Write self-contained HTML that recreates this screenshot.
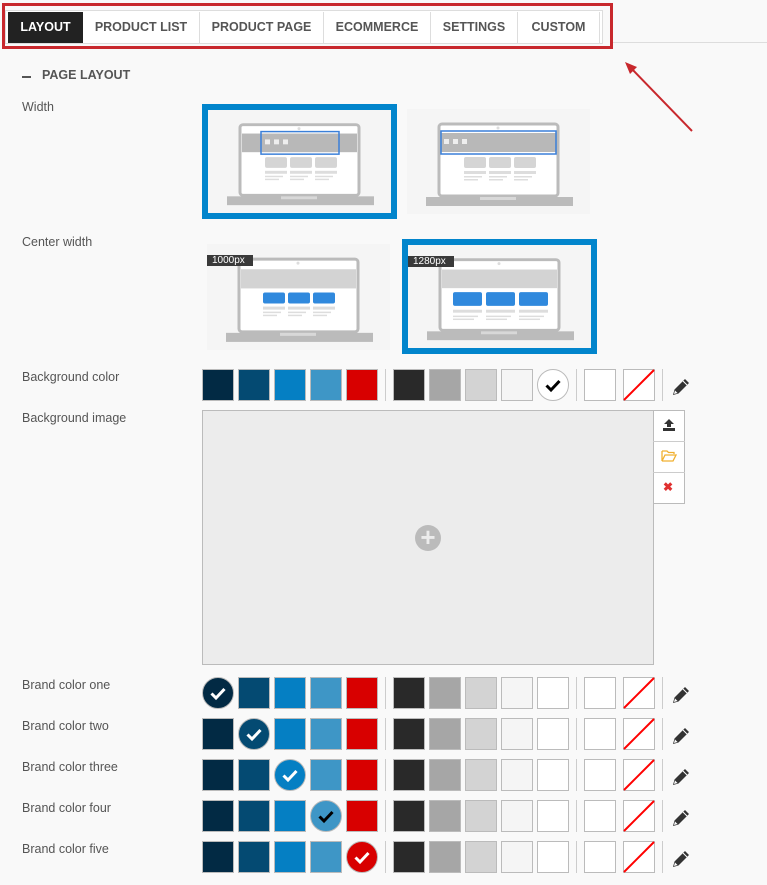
<!DOCTYPE html>
<html><head><meta charset="utf-8"><style>
*{box-sizing:border-box;margin:0;padding:0}
body{width:767px;height:885px;background:#f9f9f9;font-family:"Liberation Sans",sans-serif;position:relative;overflow:hidden;color:#444}
.a{position:absolute}
.tab{position:absolute;top:12px;height:31px;line-height:31px;text-align:center;font-weight:bold;font-size:12.5px;color:#555;border-right:1px solid #ddd;background:#fff}
.lbl{position:absolute;left:22px;font-size:12.5px;color:#555}
.sw{position:absolute;width:32px;height:32px;border:1px solid #bbb}
.sep{position:absolute;width:1px;height:32px;background:#ccc}
.circ{position:absolute;width:32px;height:32px;border-radius:50%}
</style></head><body>
<div class="a" style="left:612px;top:42px;width:155px;height:1px;background:#ddd"></div>
<div class="a" style="left:5px;top:10px;width:598px;height:34px;background:#fff;border:1px solid #ddd"></div>
<div class="tab" style="left:8px;width:75px;background:#222;color:#fff;border:none">LAYOUT</div>
<div class="tab" style="left:83px;width:117px">PRODUCT LIST</div>
<div class="tab" style="left:200px;width:124px">PRODUCT PAGE</div>
<div class="tab" style="left:324px;width:107px">ECOMMERCE</div>
<div class="tab" style="left:431px;width:87px">SETTINGS</div>
<div class="tab" style="left:518px;width:82px">CUSTOM</div>
<div class="a" style="left:2px;top:3px;width:611px;height:46px;border:3px solid #c8282d"></div>
<svg class="a" style="left:620px;top:58px" width="80" height="80"><line x1="72" y1="73" x2="10" y2="9" stroke="#c8282d" stroke-width="2"/><polygon points="5,4 17,9 10,16" fill="#c8282d"/></svg>

<div class="a" style="left:22px;top:76px;width:9px;height:2px;background:#555"></div>
<div class="a" style="left:42px;top:68px;font-size:12.5px;font-weight:bold;color:#555">PAGE LAYOUT</div>
<div class="lbl" style="top:100px">Width</div>
<div class="lbl" style="top:235px">Center width</div>
<div class="lbl" style="top:370px">Background color</div>
<div class="lbl" style="top:411px">Background image</div>
<div class="lbl" style="top:678px">Brand color one</div>
<div class="lbl" style="top:719px">Brand color two</div>
<div class="lbl" style="top:760px">Brand color three</div>
<div class="lbl" style="top:801px">Brand color four</div>
<div class="lbl" style="top:842px">Brand color five</div>

<div id="imgs"></div>
<div class="a" style="left:202px;top:104px;width:195px;height:115px;border:6px solid #0285cc"></div>
<div class="a" style="left:402px;top:239px;width:195px;height:115px;border:6px solid #0285cc"></div>

<div class="a" style="left:202px;top:410px;width:452px;height:255px;background:#ececec;border:1px solid #bbb"></div>
<div class="a" style="left:415px;top:525px;width:26px;height:26px;border-radius:50%;background:#bbb;color:#ececec;font-size:26px;line-height:25px;text-align:center;font-weight:bold">+</div>
<div class="a" style="left:653px;top:410px;width:32px;height:94px;border:1px solid #bbb;background:#fff"></div>
<div class="a" style="left:653px;top:441px;width:32px;height:1px;background:#ccc"></div>
<div class="a" style="left:653px;top:472px;width:32px;height:1px;background:#ccc"></div>
<svg class="a" style="left:662px;top:418px" width="14" height="14"><polygon points="7,1 12,6 9,6 9,9 5,9 5,6 2,6" fill="#333"/><rect x="1" y="10" width="12" height="3" fill="#333"/></svg>
<svg class="a" style="left:661px;top:449px" width="16" height="13"><path d="M1 2 H6 L7.5 3.5 H13 V5 M1 2 V12 L4 6 H15 L12 12 H1" fill="none" stroke="#f0b030" stroke-width="1.3"/></svg>
<div class="a" style="left:663px;top:480px;font-size:12px;color:#e03030;font-weight:bold">✖</div>
<div id="sw"></div>
<script>
var cols=['#022a44','#044a72','#057fc3','#3e96c6','#d80000','#292929','#a6a6a6','#d3d3d3','#f5f5f5','#fff'];
var xs=[202,238,274,310,346,393,429,465,501,537];
var h='';
function chk(x,y,c){return '<svg class="a" style="left:'+x+'px;top:'+y+'px" width="32" height="32"><path d="M9.5 16.5 L14 21 L22.5 12" fill="none" stroke="'+c+'" stroke-width="3"/></svg>';}
function row(y,sel,selCol,ck){
 for(var i=0;i<10;i++){
  if(i==sel){h+='<div class="circ" style="left:'+xs[i]+'px;top:'+y+'px;background:'+selCol+';border:1px solid #bbb"></div>'+chk(xs[i],y,ck);}
  else h+='<div class="sw" style="left:'+xs[i]+'px;top:'+y+'px;background:'+cols[i]+'"></div>';
 }
 h+='<div class="sep" style="left:385px;top:'+y+'px"></div><div class="sep" style="left:576px;top:'+y+'px"></div><div class="sep" style="left:662px;top:'+y+'px"></div>';
 h+='<div class="sw" style="left:584px;top:'+y+'px;background:#fff"></div>';
 h+='<svg class="a" style="left:623px;top:'+y+'px" width="32" height="32"><rect x=".5" y=".5" width="31" height="31" fill="#fff" stroke="#bbb"/><line x1="1" y1="31" x2="31" y2="1" stroke="red" stroke-width="2"/></svg>';
 h+='<svg class="a" style="left:672px;top:'+(y+8)+'px" width="19" height="19"><path d="M1 18 L2.5 12.5 L13 2 L17 6 L6.5 16.5 Z" fill="#333"/><path d="M2 17 L3 13.5 L5.5 16 Z" fill="#fff"/><line x1="11" y1="4" x2="15" y2="8" stroke="#fff" stroke-width="1"/></svg>';
}
row(369,9,'#fff','#000');
var bc=['#022a44','#044a72','#057fc3','#3e96c6','#d80000'];
var ys=[677,718,759,800,841];
for(var k=0;k<5;k++)row(ys[k],k,bc[k],k==3?'#000':'#fff');
document.getElementById('sw').innerHTML=h;
function lap(x,y,w,hh,mode,label){
 var s='<svg class="a" style="left:'+x+'px;top:'+y+'px" width="'+w+'" height="'+hh+'" viewBox="0 0 183 105" preserveAspectRatio="none"><rect width="183" height="105" fill="#f5f5f5"/>';
 s+='<rect x="32" y="15" width="119" height="72" rx="3" fill="#fff" stroke="#bbb" stroke-width="3"/><circle cx="91" cy="19" r="1.5" fill="#ddd"/>';
 s+='<rect x="19" y="88" width="147" height="9" fill="#bbb"/><rect x="73" y="88" width="36" height="3" fill="#d8d8d8"/>';
 if(mode<2){
  s+='<rect x="34" y="24" width="115" height="19" fill="#b8b8b8"/>';
  if(mode==0)s+='<rect x="53" y="22" width="78" height="23" fill="none" stroke="#3a7fd8" stroke-width="1.5"/>';
  else s+='<rect x="34" y="22" width="115" height="23" fill="none" stroke="#3a7fd8" stroke-width="1.5"/>';
  var bx=mode==0?57:37;
  for(var i=0;i<3;i++)s+='<rect x="'+(bx+i*9)+'" y="30" width="5" height="5" fill="#eee"/>';
  for(var i=0;i<3;i++){var cx=57+i*25;s+='<rect x="'+cx+'" y="48" width="22" height="11" rx="2" fill="#d5d5d5"/><rect x="'+cx+'" y="62" width="22" height="3" fill="#ddd"/><rect x="'+cx+'" y="67" width="18" height="1.5" fill="#ddd"/><rect x="'+cx+'" y="70" width="14" height="1.5" fill="#ddd"/>';}
 } else {
  s+='<rect x="34" y="25" width="115" height="19" fill="#d3d3d3"/>';
  var cw=mode==2?22:29,st=mode==2?56:45,pt=mode==2?25:33;
  for(var i=0;i<3;i++){var cx=st+i*pt;s+='<rect x="'+cx+'" y="48" width="'+cw+'" height="'+(mode==2?11:14)+'" rx="2" fill="#3089dd"/><rect x="'+cx+'" y="'+(mode==2?62:66)+'" width="'+cw+'" height="3" fill="#ddd"/><rect x="'+cx+'" y="'+(mode==2?67:72)+'" width="'+(cw-4)+'" height="1.5" fill="#ddd"/><rect x="'+cx+'" y="'+(mode==2?70:75)+'" width="'+(cw-8)+'" height="1.5" fill="#ddd"/>';}
 }
 s+='</svg>';
 if(label)s+='<div class="a" style="left:'+x+'px;top:'+(y+11)+'px;width:46px;height:11px;background:#3a3a3a;color:#fff;font-size:10px;line-height:11px;padding-left:5px">'+label+'</div>';
 return s;
}
document.getElementById('imgs').innerHTML=lap(208,110,183,103,0)+lap(407,109,183,105,1)+lap(207,244,183,106,2,'1000px')+lap(408,245,183,103,3,'1280px');
</script>
</body></html>
